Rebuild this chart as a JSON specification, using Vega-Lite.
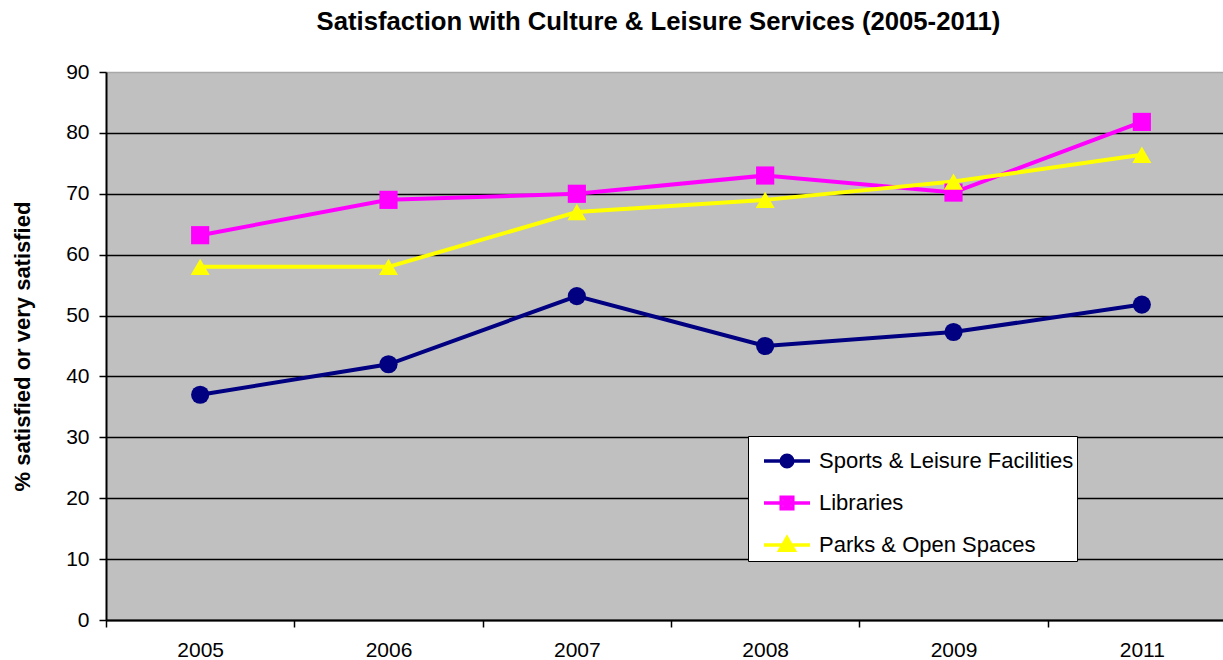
{
  "$schema": "https://vega.github.io/schema/vega-lite/v6.json",
  "autosize": {"type": "none"},
  "width": 1117,
  "height": 548,
  "padding": {"left": 106, "top": 72, "right": 0, "bottom": 40},
  "background": "white",
  "title": {
    "text": "Satisfaction with Culture & Leisure Services (2005-2011)",
    "font": "Liberation Sans",
    "fontSize": 25.7,
    "fontWeight": "bold",
    "color": "black",
    "anchor": "middle",
    "offset": 25,
    "dx": -6
  },
  "config": {
    "view": {"fill": "#C0C0C0", "stroke": null},
    "font": "Liberation Sans"
  },
  "data": {
    "values": [
      {"year": "2005", "series": "Sports & Leisure Facilities", "value": 37},
      {"year": "2006", "series": "Sports & Leisure Facilities", "value": 42},
      {"year": "2007", "series": "Sports & Leisure Facilities", "value": 53.2},
      {"year": "2008", "series": "Sports & Leisure Facilities", "value": 45},
      {"year": "2009", "series": "Sports & Leisure Facilities", "value": 47.3},
      {"year": "2011", "series": "Sports & Leisure Facilities", "value": 51.8},
      {"year": "2005", "series": "Libraries", "value": 63.2},
      {"year": "2006", "series": "Libraries", "value": 69},
      {"year": "2007", "series": "Libraries", "value": 70},
      {"year": "2008", "series": "Libraries", "value": 73},
      {"year": "2009", "series": "Libraries", "value": 70.2},
      {"year": "2011", "series": "Libraries", "value": 81.8},
      {"year": "2005", "series": "Parks & Open Spaces", "value": 58},
      {"year": "2006", "series": "Parks & Open Spaces", "value": 58},
      {"year": "2007", "series": "Parks & Open Spaces", "value": 67},
      {"year": "2008", "series": "Parks & Open Spaces", "value": 69},
      {"year": "2009", "series": "Parks & Open Spaces", "value": 72},
      {"year": "2011", "series": "Parks & Open Spaces", "value": 76.4}
    ]
  },
  "encoding": {
    "x": {
      "field": "year",
      "type": "ordinal",
      "scale": {"type": "band", "paddingInner": 0, "paddingOuter": 0, "range": [0, 1130]},
      "axis": {
        "title": null,
        "labelAngle": 0,
        "labelFontSize": 21,
        "labelColor": "black",
        "labelPadding": 12,
        "tickBand": "extent",
        "tickSize": 7,
        "tickColor": "black",
        "tickWidth": 1.5,
        "domainColor": "black",
        "domainWidth": 2,
        "grid": false
      }
    },
    "y": {
      "field": "value",
      "type": "quantitative",
      "scale": {"domain": [0, 90], "nice": false},
      "axis": {
        "title": "% satisfied or very satisfied",
        "titleFontSize": 22,
        "titleFontWeight": "bold",
        "titleColor": "black",
        "titlePadding": 31,
        "values": [0, 10, 20, 30, 40, 50, 60, 70, 80, 90],
        "labelFontSize": 21,
        "labelColor": "black",
        "labelPadding": 10,
        "tickSize": 7,
        "tickColor": "black",
        "tickWidth": 1.5,
        "domainColor": "black",
        "domainWidth": 2,
        "grid": true,
        "gridColor": {"condition": {"test": "datum.value === 90", "value": "#a8a8a8"}, "value": "black"},
        "gridWidth": 1.3
      }
    }
  },
  "layer": [
    {
      "mark": {"type": "line", "strokeWidth": 4},
      "encoding": {
        "color": {
          "field": "series",
          "type": "nominal",
          "scale": {
            "domain": ["Sports & Leisure Facilities", "Libraries", "Parks & Open Spaces"],
            "range": ["#000080", "#FF00FF", "#FFFF00"]
          },
          "legend": {
            "title": null,
            "orient": "none",
            "legendX": 642,
            "legendY": 364,
            "fillColor": "white",
            "strokeColor": "black",
            "padding": 3,
            "symbolOffset": 14,
            "labelFontSize": 22,
            "labelColor": "black",
            "labelOffset": 10,
            "rowPadding": 7,
            "symbolSize": 1600,
            "symbolStrokeWidth": 3.5,
            "symbolFillColor": "transparent",
            "labelLimit": 400
          }
        }
      }
    },
    {
      "transform": [{"filter": "datum.value < 0"}],
      "mark": {"type": "point", "filled": false, "opacity": 1, "strokeWidth": 3.5},
      "encoding": {
        "color": {
          "field": "series",
          "type": "nominal",
          "scale": {
            "domain": ["Sports & Leisure Facilities", "Libraries", "Parks & Open Spaces"],
            "range": ["#000080", "#FF00FF", "#FFFF00"]
          }
        },
        "shape": {
          "field": "series",
          "type": "nominal",
          "scale": {
            "domain": ["Sports & Leisure Facilities", "Libraries", "Parks & Open Spaces"],
            "range": [
              "M-1.15,0H1.15M0.29,0A0.29,0.29 0 1,1 -0.29,0A0.29,0.29 0 1,1 0.29,0M0.125,0A0.125,0.125 0 1,1 -0.125,0A0.125,0.125 0 1,1 0.125,0",
              "M-1.15,0H1.15M-0.29,-0.29H0.29V0.29H-0.29ZM-0.11,-0.11H0.11V0.11H-0.11Z",
              "M-1.15,0H1.15M0,-0.36L0.36,0.26H-0.36ZM0,-0.112L0.144,0.136H-0.144Z"
            ]
          }
        }
      }
    },
    {
      "transform": [{"filter": "datum.series === 'Sports & Leisure Facilities'"}],
      "mark": {"type": "point", "shape": "circle", "filled": true, "opacity": 1, "size": 330, "color": "#000080"}
    },
    {
      "transform": [{"filter": "datum.series === 'Libraries'"}],
      "mark": {"type": "point", "shape": "square", "filled": true, "opacity": 1, "size": 330, "color": "#FF00FF"}
    },
    {
      "transform": [{"filter": "datum.series === 'Parks & Open Spaces'"}],
      "mark": {"type": "point", "shape": "triangle-up", "filled": true, "opacity": 1, "size": 360, "color": "#FFFF00"}
    }
  ]
}
